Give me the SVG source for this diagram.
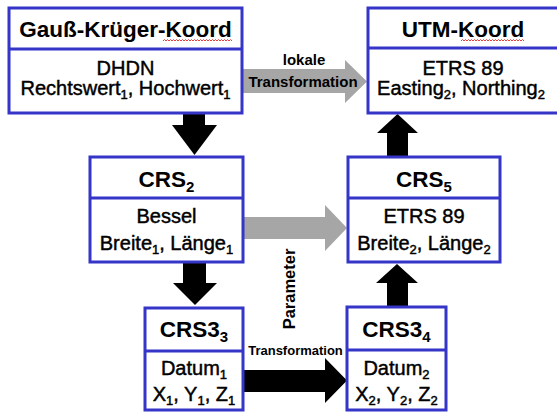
<svg xmlns="http://www.w3.org/2000/svg" width="557" height="412" viewBox="0 0 557 412">
<style>
.box{fill:#fff;stroke:#3535c8;stroke-width:3}
.div{stroke:#3535c8;stroke-width:3}
.t{font-family:"Liberation Sans",Arial,sans-serif;fill:#000;text-anchor:middle}
.h{font-size:22.5px;font-weight:bold}
.b{font-size:20px;stroke:#000;stroke-width:0.45px}
.l{font-weight:bold}
.gray{fill:#a6a6a6}
.blk{fill:#000}
.sq{fill:none;stroke:#e04040;stroke-width:1}
</style>
<rect width="557" height="412" fill="#fff"/>
<g id="connectors">
  <polygon class="gray" points="243,69 345,69 345,60 367,81.5 345,103 345,93 243,93"/>
  <polygon class="gray" points="243,217 325,217 325,205 347,228 325,251 325,239 243,239"/>
  <polygon class="blk" points="243,370 325,370 325,358 347,380.5 325,403 325,392 243,392"/>
  <polygon class="blk" points="183,114 205,114 205,125 217,125 194.5,155 172,125 183,125"/>
  <polygon class="blk" points="183,263 206,263 206,283 217,283 195,305 173,283 183,283"/>
  <polygon class="blk" points="387,156 408,156 408,133 418,133 397.5,114 377,133 387,133"/>
  <polygon class="blk" points="387,306 408,306 408,283 418,283 397,264 376,283 387,283"/>
  <text class="t l" x="304" y="65" font-size="15">lokale</text>
  <text class="t l" x="303" y="87" font-size="15">Transformation</text>
  <text class="t l" x="295.5" y="355" font-size="13">Transformation</text>
  <text class="t l" font-size="16.5" transform="translate(295,289) rotate(-90)">Parameter</text>
</g>
<g id="gauss-krueger">
  <rect class="box" x="9" y="8" width="233" height="105"/>
  <line class="div" x1="9" y1="49" x2="242" y2="49"/>
  <text class="t h" x="125.5" y="37">Gauß-Krüger-Koord</text>
  <path class="sq" d="M163,41 l1.5,-1.5 l1.5,1.5 l1.5,-1.5 l1.5,1.5 l1.5,-1.5 l1.5,1.5 l1.5,-1.5 l1.5,1.5 l1.5,-1.5 l1.5,1.5 l1.5,-1.5 l1.5,1.5 l1.5,-1.5 l1.5,1.5 l1.5,-1.5 l1.5,1.5 l1.5,-1.5 l1.5,1.5 l1.5,-1.5 l1.5,1.5 l1.5,-1.5 l1.5,1.5 l1.5,-1.5 l1.5,1.5 l1.5,-1.5 l1.5,1.5 l1.5,-1.5 l1.5,1.5 l1.5,-1.5 l1.5,1.5 l1.5,-1.5 l1.5,1.5 l1.5,-1.5 l1.5,1.5 l1.5,-1.5 l1.5,1.5 l1.5,-1.5 l1.5,1.5 l1.5,-1.5 l1.5,1.5 l1.5,-1.5 l1.5,1.5 l1.5,-1.5 l1.5,1.5 l1.5,-1.5 l1.5,1.5"/>
  <text class="t b" x="125.5" y="75">DHDN</text>
  <text class="t b" x="125.5" y="95">Rechtswert<tspan font-size="13" dy="4">1</tspan><tspan dy="-4">, Hochwert</tspan><tspan font-size="13" dy="4">1</tspan></text>
</g>
<g id="utm">
  <rect class="box" x="368" y="8" width="192" height="105"/>
  <line class="div" x1="368" y1="48" x2="560" y2="48"/>
  <text class="t h" x="463" y="37">UTM-Koord</text>
  <path class="sq" d="M461,41 l1.5,-1.5 l1.5,1.5 l1.5,-1.5 l1.5,1.5 l1.5,-1.5 l1.5,1.5 l1.5,-1.5 l1.5,1.5 l1.5,-1.5 l1.5,1.5 l1.5,-1.5 l1.5,1.5 l1.5,-1.5 l1.5,1.5 l1.5,-1.5 l1.5,1.5 l1.5,-1.5 l1.5,1.5 l1.5,-1.5 l1.5,1.5 l1.5,-1.5 l1.5,1.5 l1.5,-1.5 l1.5,1.5 l1.5,-1.5 l1.5,1.5 l1.5,-1.5 l1.5,1.5 l1.5,-1.5 l1.5,1.5 l1.5,-1.5 l1.5,1.5 l1.5,-1.5 l1.5,1.5 l1.5,-1.5 l1.5,1.5 l1.5,-1.5 l1.5,1.5 l1.5,-1.5 l1.5,1.5 l1.5,-1.5 l1.5,1.5"/>
  <text class="t b" x="463" y="75">ETRS 89</text>
  <text class="t b" x="461" y="95">Easting<tspan font-size="13" dy="4">2</tspan><tspan dy="-4">, Northing</tspan><tspan font-size="13" dy="4">2</tspan></text>
</g>
<g id="crs2">
  <rect class="box" x="90" y="157" width="153" height="105"/>
  <line class="div" x1="90" y1="198" x2="243" y2="198"/>
  <text class="t h" x="166.5" y="187">CRS<tspan font-size="15" dy="5">2</tspan></text>
  <text class="t b" x="166.5" y="223">Bessel</text>
  <text class="t b" x="166.5" y="250">Breite<tspan font-size="13" dy="4">1</tspan><tspan dy="-4">, Länge</tspan><tspan font-size="13" dy="4">1</tspan></text>
</g>
<g id="crs5">
  <rect class="box" x="348" y="157" width="152" height="105"/>
  <line class="div" x1="348" y1="198" x2="500" y2="198"/>
  <text class="t h" x="424" y="187">CRS<tspan font-size="15" dy="5">5</tspan></text>
  <text class="t b" x="424" y="223">ETRS 89</text>
  <text class="t b" x="424" y="250">Breite<tspan font-size="13" dy="4">2</tspan><tspan dy="-4">, Länge</tspan><tspan font-size="13" dy="4">2</tspan></text>
</g>
<g id="crs3-3">
  <rect class="box" x="145" y="308" width="98" height="102"/>
  <line class="div" x1="145" y1="351" x2="243" y2="351"/>
  <text class="t h" x="194" y="337">CRS3<tspan font-size="15" dy="5">3</tspan></text>
  <text class="t b" x="194" y="375">Datum<tspan font-size="13" dy="4">1</tspan></text>
  <text class="t b" x="194" y="401">X<tspan font-size="13" dy="4">1</tspan><tspan dy="-4">, Y</tspan><tspan font-size="13" dy="4">1</tspan><tspan dy="-4">, Z</tspan><tspan font-size="13" dy="4">1</tspan></text>
</g>
<g id="crs3-4">
  <rect class="box" x="347" y="307" width="99" height="103"/>
  <line class="div" x1="347" y1="350" x2="446" y2="350"/>
  <text class="t h" x="396.5" y="337">CRS3<tspan font-size="15" dy="5">4</tspan></text>
  <text class="t b" x="396.5" y="375">Datum<tspan font-size="13" dy="4">2</tspan></text>
  <text class="t b" x="396.5" y="401">X<tspan font-size="13" dy="4">2</tspan><tspan dy="-4">, Y</tspan><tspan font-size="13" dy="4">2</tspan><tspan dy="-4">, Z</tspan><tspan font-size="13" dy="4">2</tspan></text>
</g>
</svg>
